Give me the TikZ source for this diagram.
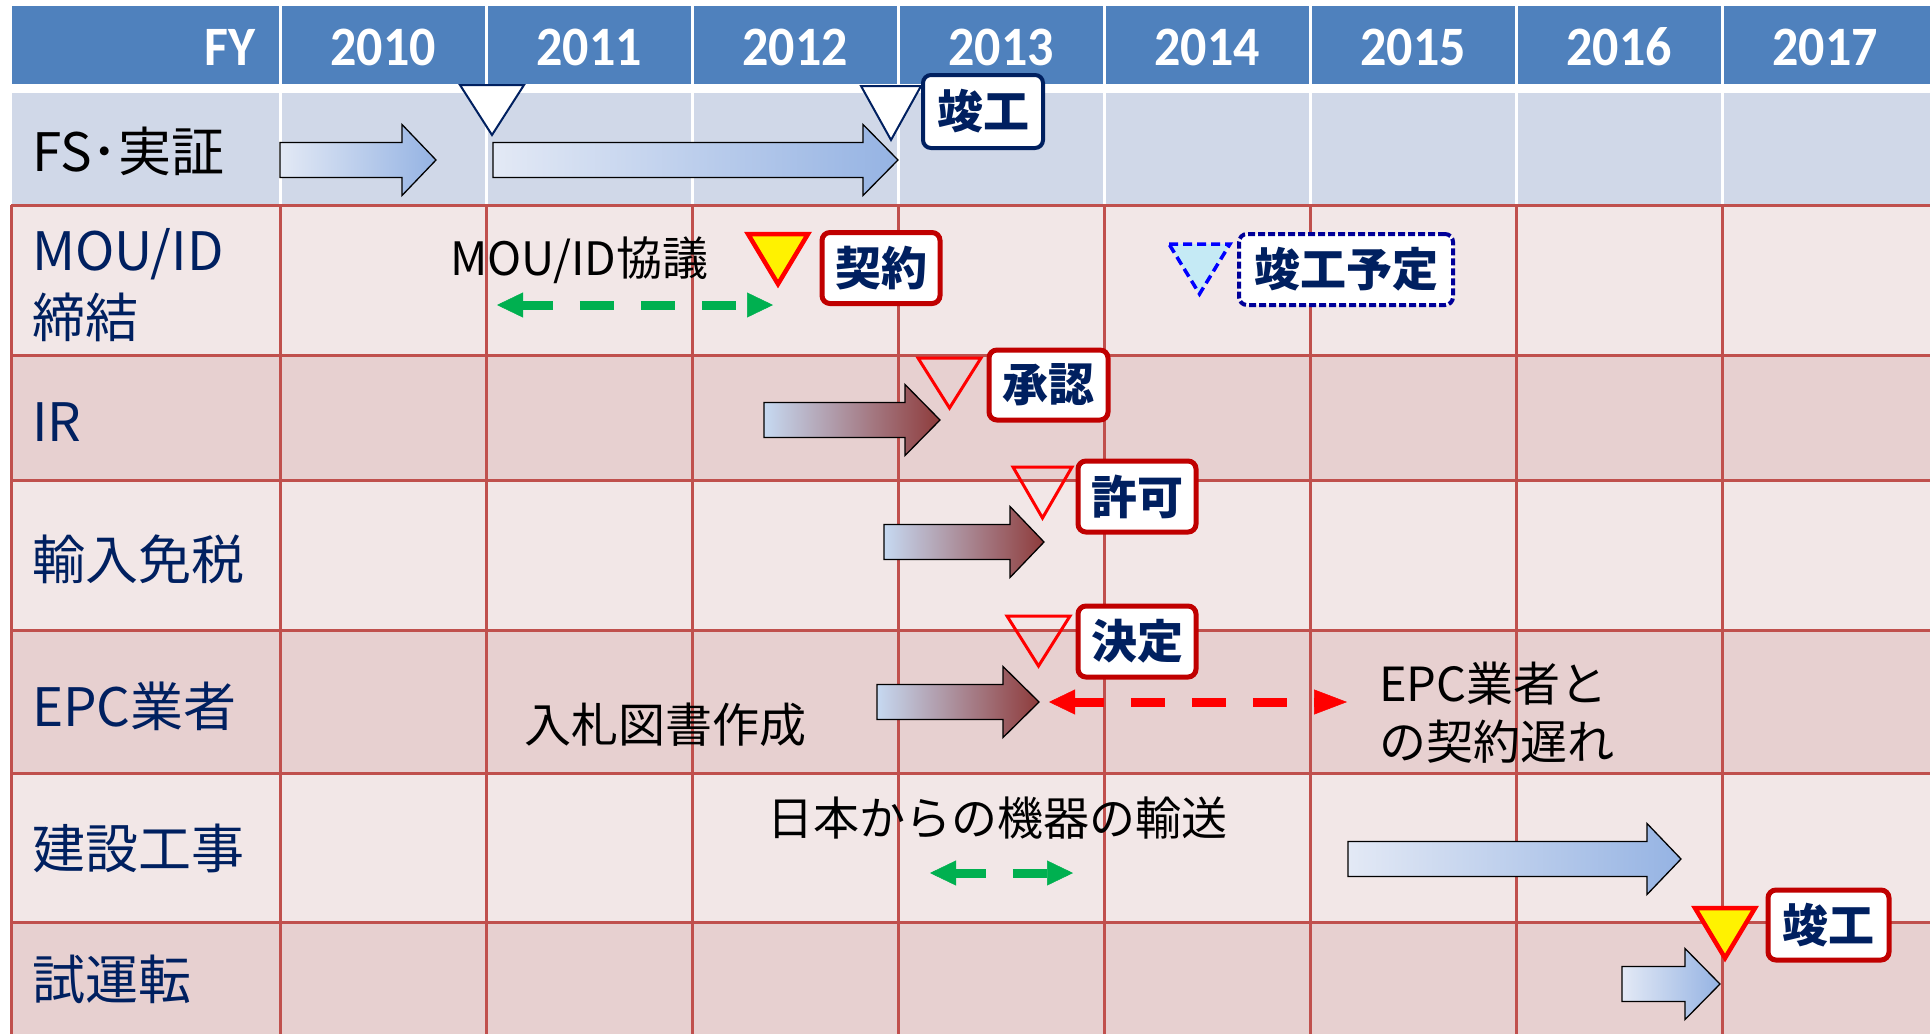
\documentclass[tikz,border=0pt]{standalone}
\usepackage{graphicx}
\usepackage{fontspec}
\setmainfont{Noto Sans CJK JP}
\newfontfamily\hdrfont{Carlito}
\usetikzlibrary{arrows.meta}
\definecolor{hdrblue}{HTML}{4F81BD}
\definecolor{rowone}{HTML}{D0D8E8}
\definecolor{rowlight}{HTML}{F2E7E7}
\definecolor{rowdark}{HTML}{E7D0D0}
\definecolor{gridred}{HTML}{C0504D}
\definecolor{navy}{HTML}{002060}
\definecolor{boxred}{HTML}{C00000}
\definecolor{mgreen}{HTML}{00B050}
\definecolor{ablueL}{HTML}{E3E9F5}
\definecolor{ablueR}{HTML}{95B3E3}
\definecolor{aredL}{HTML}{C6D9F1}
\definecolor{aredR}{HTML}{8E3B3B}
\definecolor{ltcyan}{HTML}{C5EAF5}
\definecolor{dashnavy}{HTML}{000099}
\newcommand{\blockarr}[5]{\path[#5] (#1,#4-17.5) -- (#2,#4-17.5) -- (#2,#4-35.5) -- (#3,#4) -- (#2,#4+35.5) -- (#2,#4+17.5) -- (#1,#4+17.5) -- cycle;}
\newcommand{\downtri}[5]{\path[#5] (#1,#3) -- (#2,#3) -- ({(#1+#2)/2},#4) -- cycle;}
\newcommand{\hstretch}[1]{\scalebox{1}[1.07]{#1}}
\tikzset{
  hdrtxt/.style={text=white, font=\hdrfont\bfseries\fontsize{52}{56}\selectfont, inner sep=0pt},
  rowlbl/.style={text=navy, font=\fontsize{53}{58}\selectfont, anchor=west, inner sep=0pt},
  note/.style={text=black, font=\fontsize{47}{52}\selectfont, anchor=west, inner sep=0pt},
  mbox/.style={rounded corners=8pt, fill=white, line width=5pt, draw=boxred, text=navy,
    font=\bfseries\fontsize{46}{50}\selectfont, inner sep=0pt, minimum width=118pt, minimum height=71pt},
  nbox/.style={mbox, draw=navy, line width=4pt},
  dbox/.style={mbox, draw=dashnavy, line width=4pt, dash pattern=on 7pt off 3pt},
  arrblue/.style={draw=black, line width=1.3pt, left color=ablueL, right color=ablueR},
  arrred/.style={draw=black, line width=1.3pt, left color=aredL, right color=aredR},
  triwhite/.style={fill=white, draw=navy, line width=2pt},
  triyellow/.style={fill=yellow, draw=red, line width=4.5pt},
  trired/.style={draw=red, line width=3pt},
  tridash/.style={fill=ltcyan, draw=blue, line width=3.5pt, dash pattern=on 9pt off 5pt},
  gdash/.style={draw=mgreen, line width=9pt, dash pattern=on 34pt off 27pt, dash phase=4pt,
    arrows={Triangle[length=26pt,width=25pt,line width=0.5pt]-Triangle[length=26pt,width=25pt,line width=0.5pt]}},
  rdash/.style={draw=red, line width=9pt, dash pattern=on 34pt off 27pt, dash phase=5pt,
    arrows={Triangle[length=26pt,width=25pt,line width=0.5pt]-Triangle[length=33pt,width=25pt,line width=0.5pt]}}
}
\begin{document}
\begin{tikzpicture}[x=1pt,y=-1pt]
\useasboundingbox (0,0) rectangle (1930,1034);
\fill[white] (0,0) rectangle (1930,1034);
% header and first row
\fill[hdrblue] (12,6) rectangle (1930,84);
\fill[rowone] (12,93) rectangle (1930,205);
\foreach \x in {280,486,...,1722} \draw[white,line width=3pt] (\x,6) -- (\x,205);
% row fills
\fill[rowlight] (11,205) rectangle (1930,355);
\fill[rowdark] (11,355) rectangle (1930,480);
\fill[rowlight] (11,480) rectangle (1930,630);
\fill[rowdark] (11,630) rectangle (1930,773);
\fill[rowlight] (11,773) rectangle (1930,922);
\fill[rowdark] (11,922) rectangle (1930,1034);
% grid
\begin{scope}[draw=gridred, line width=3pt]
\foreach \y in {205,355,480,630,773,922} \draw (11,\y) -- (1930,\y);
\draw (11,205) -- (11,1034);
\foreach \x in {280,486,...,1722} \draw (\x,205) -- (\x,1034);
\end{scope}
% header text
\node[hdrtxt, anchor=east] (fy) at (256,47) {\hstretch{FY}};
\foreach \yr [count=\i from 0] in {2010,2011,2012,2013,2014,2015,2016,2017}
  \node[hdrtxt] (y\yr) at ({383+206*\i},47) {\hstretch{\yr}};
% row labels
\node[rowlbl, text=black] (lfs) at (32,151) {FS･実証};
\node[rowlbl] (lmou) at (32,254) {MOU/ID};
\node[rowlbl] (lmou2) at (32,317) {締結};
\node[rowlbl] (lir) at (32,422) {IR};
\node[rowlbl] (lyunyu) at (32,559) {輸入免税};
\node[rowlbl] (lepc) at (32,706) {EPC業者};
\node[rowlbl] (lken) at (32,848) {建設工事};
\node[rowlbl] (lshi) at (32,979) {試運転};
% block arrows
\blockarr{280}{402}{436}{160}{arrblue}
\blockarr{493}{863}{898}{160}{arrblue}
\blockarr{764}{905}{940}{420}{arrred}
\blockarr{884}{1010}{1044}{542}{arrred}
\blockarr{877}{1003}{1039}{702}{arrred}
\blockarr{1348}{1647}{1681}{859}{arrblue}
\blockarr{1622}{1685}{1720}{984}{arrblue}
% triangles
\downtri{460}{524}{85}{135}{triwhite}
\downtri{861}{921}{86}{140}{triwhite}
\downtri{748}{808}{234}{284}{triyellow}
\downtri{1169}{1230}{244}{294}{tridash}
\downtri{918}{981}{358}{408}{trired}
\downtri{1013}{1072}{467}{518}{trired}
\downtri{1007}{1070}{616}{666}{trired}
\downtri{1695}{1755}{908}{958}{triyellow}
% milestone boxes
\node[nbox, minimum width=120pt, minimum height=73pt] (b1) at (983,111.5) {竣工};
\node[mbox] (b2) at (881,268) {契約};
\node[dbox, minimum width=214pt] (b3) at (1346,269.5) {竣工予定};
\node[mbox, minimum width=119pt, minimum height=70pt] (b4) at (1048.5,385) {承認};
\node[mbox] (b5) at (1137,496.5) {許可};
\node[mbox] (b6) at (1137,641.5) {決定};
\node[mbox, minimum width=121pt, minimum height=70pt] (b7) at (1828.5,925) {竣工};
% dashed double arrows
\coordinate (mouL) at (497,305);
\coordinate (mouR) at (773,305);
\draw[gdash] (mouL) -- (mouR);
\coordinate (epcL) at (1049,702);
\coordinate (epcR) at (1347,702);
\draw[rdash] (epcL) -- (epcR);
\coordinate (yusoL) at (930,873);
\coordinate (yusoR) at (1073,873);
\draw[gdash] (yusoL) -- (yusoR);
% notes
\node[note, font=\fontsize{46}{50}\selectfont] (tmou) at (450,260) {MOU/ID協議};
\node[note] (tnyu) at (524,725) {入札図書作成};
\node[note] (tepc1) at (1379,684) {EPC業者と};
\node[note] (tepc2) at (1379,742) {の契約遅れ};
\node[note, font=\fontsize{46}{50}\selectfont] (tyuso) at (767,818) {日本からの機器の輸送};
\end{tikzpicture}
\end{document}
